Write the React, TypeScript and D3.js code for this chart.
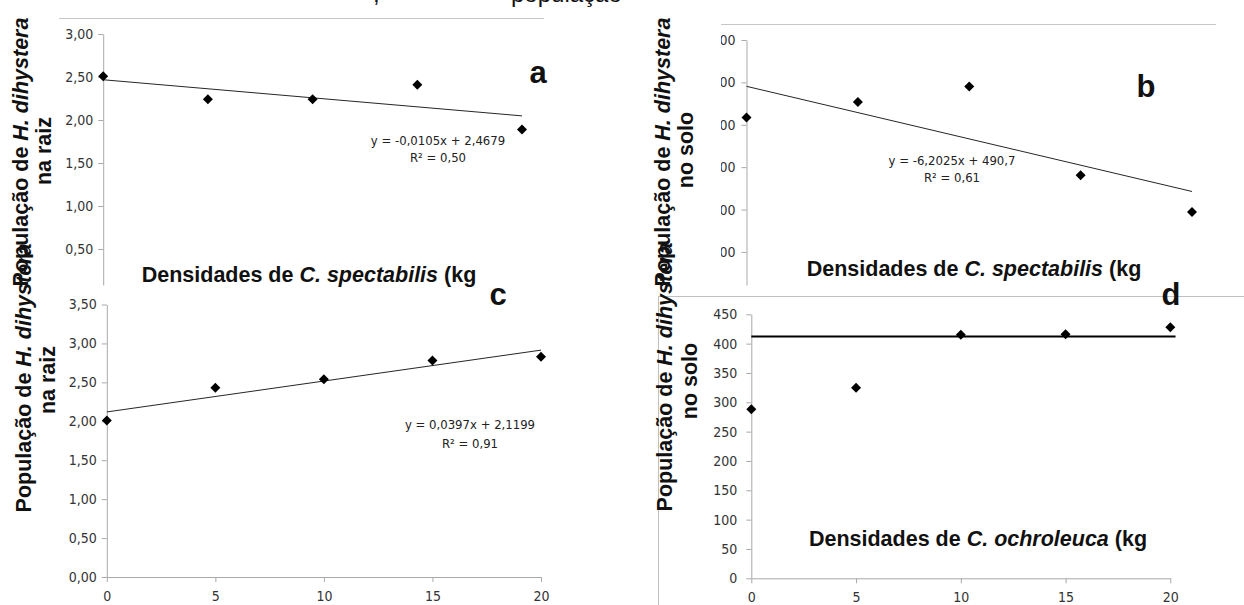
import React, { useRef, useEffect } from "react";
import * as d3 from "d3";

// densidades (kg) e populações
const densAB = [0, 10, 20, 30, 40];
const raizA = [2.51, 2.24, 2.24, 2.41, 1.89];
const soloB = [417, 454, 490, 281, 194];
const densCD = [0, 5, 10, 15, 20];
const raizC = [2.01, 2.43, 2.54, 2.78, 2.83];
const soloD = [288, 325, 415, 416, 428];

const ticksA = [0.5, 1, 1.5, 2, 2.5, 3];
const ticksB = [0, 100, 200, 300, 400, 500, 600];
const ticksC = [0, 0.5, 1, 1.5, 2, 2.5, 3, 3.5];
const ticksD = [0, 50, 100, 150, 200, 250, 300, 350, 400, 450];
const xTicksB = [0, 5, 10, 15, 20, 25, 30, 35, 40];
const xTicksCD = [0, 5, 10, 15, 20];

const eqA = ["y = -0,0105x + 2,4679", "R² = 0,50"];
const eqB = ["y = -6,2025x + 490,7", "R² = 0,61"];
const eqC = ["y = 0,0397x + 2,1199", "R² = 0,91"];
const slopes = [-0.0105, -6.2025, 0.0397];
const intercepts = [2.4679, 490.7, 2.1199];
const linhaD = 412;

const tickFont = "'Liberation Sans Narrow', 'DejaVu Sans Condensed', sans-serif";
const boldFont = "'Liberation Sans', Arial, sans-serif";

const comma = (f) => (d) => f(d).replace(".", ",");

const App = () => {
  const container = useRef(null);

  useEffect(() => {
    createChart();
  });

  const createChart = () => {
    const svg = d3.select(container.current);
    svg.selectAll("*").remove();

    // fragmento do título cortado no topo (só as hastes inferiores aparecem)
    const tt = svg.append("text").attr("y", 1.5).style("font-family", boldFont).style("font-size", "24px").attr("fill", "#111");
    tt.append("tspan").attr("x", 373).text(",");
    tt.append("tspan").attr("x", 511).text("população");

    svg.append("line").attr("x1", 59).attr("x2", 544).attr("y1", 18.5).attr("y2", 18.5).attr("stroke", "#c6c6c6");
    svg.append("line").attr("x1", 721).attr("x2", 1216).attr("y1", 24.5).attr("y2", 24.5).attr("stroke", "#c6c6c6");

    svg.append("clipPath").attr("id", "clipB").append("rect").attr("x", 721).attr("y", 0).attr("width", 100).attr("height", 300);

    const panels = [
      { key: "a", xs: densAB, ys: raizA, xDomain: [0, 40], xRange: [103.2, 522], yDomain: [0, 3], yRange: [292, 34],
        yTicks: ticksA, fmt: comma(d3.format(".2f")), yPad: 5, trend: 0, eq: eqA, eqPos: [438, 145, 162] },
      { key: "b", xs: densAB, ys: soloB, xDomain: [0, 40], xRange: [746.5, 1192], yDomain: [0, 600], yRange: [294.3, 40],
        yTicks: ticksB, fmt: d3.format("d"), yPad: 6, trend: 1, eq: eqB, eqPos: [952, 165, 182], clip: "url(#clipB)",
        xTicks: xTicksB, xLabels: false },
      { key: "c", xs: densCD, ys: raizC, xDomain: [0, 20], xRange: [106.8, 541], yDomain: [0, 3.5], yRange: [577, 304.5],
        yTicks: ticksC, fmt: comma(d3.format(".2f")), yPad: 5, trend: 2, eq: eqC, eqPos: [470, 429, 448],
        xTicks: xTicksCD, xLabels: true, bg: [62, 285, false] },
      { key: "d", xs: densCD, ys: soloD, xDomain: [0, 20], xRange: [751.3, 1170.3], yDomain: [0, 450], yRange: [578.3, 314.3],
        yTicks: ticksD, fmt: d3.format("d"), yPad: 9, trend: null, xTicks: xTicksCD, xLabels: true, bg: [658, 296, true] },
    ];

    panels.forEach((p) => {
      if (p.bg) {
        svg.append("rect").attr("x", p.bg[0] + 0.5).attr("y", p.bg[1] + 0.5).attr("width", 1300).attr("height", 400)
          .attr("fill", "#fff").attr("stroke", p.bg[2] ? "#c0c0c0" : "none");
      }
      const g = svg.append("g").attr("class", "panel-" + p.key);
      const x = d3.scaleLinear().domain(p.xDomain).range(p.xRange);
      const y = d3.scaleLinear().domain(p.yDomain).range(p.yRange);

      const yaxis = d3.axisLeft(y).tickValues(p.yTicks).tickFormat(p.fmt).tickSize(5).tickSizeOuter(0).tickPadding(p.yPad);
      const ywrap = g.append("g");
      if (p.clip) ywrap.attr("clip-path", p.clip);
      ywrap.append("g").attr("transform", `translate(${p.xRange[0]},0)`).call(yaxis);

      if (p.xTicks) {
        const xaxis = d3.axisBottom(x).tickValues(p.xTicks).tickSize(5).tickSizeOuter(0).tickPadding(9)
          .tickFormat(p.xLabels ? d3.format("d") : () => "");
        g.append("g").attr("transform", `translate(0,${p.yRange[0]})`).call(xaxis);
      }

      g.selectAll(".domain, .tick line").attr("stroke", "#a9a9a9");
      g.selectAll(".tick text").attr("fill", "#333").style("font-family", tickFont).style("font-size", "14px");

      if (p.trend !== null) {
        const m = slopes[p.trend], b = intercepts[p.trend];
        g.append("path")
          .datum(p.xDomain)
          .attr("d", d3.line().x((d) => x(d)).y((d) => y(m * d + b)))
          .attr("stroke", "#262626").attr("stroke-width", 1).attr("fill", "none");
        g.selectAll(".eq").data(p.eq).join("text").attr("class", "eq")
          .attr("x", p.eqPos[0]).attr("y", (d, i) => p.eqPos[1 + i])
          .attr("text-anchor", "middle").attr("fill", "#222")
          .style("font-family", tickFont).style("font-size", "13px").text((d) => d);
      } else {
        g.append("path")
          .datum([p.xDomain[0], p.xDomain[1] + 0.25])
          .attr("d", d3.line().x((d) => x(d)).y(() => y(linhaD)))
          .attr("stroke", "#000").attr("stroke-width", 2).attr("fill", "none");
      }

      g.selectAll(".pt").data(p.ys).join("path").attr("class", "pt")
        .attr("d", d3.symbol(d3.symbolSquare, 50))
        .attr("transform", (d, i) => `translate(${x(p.xs[i])},${y(d)}) rotate(45)`)
        .attr("fill", "#000");
    });

    // títulos dos eixos x e letras
    const xTitles = [
      { x: 309, y: 282, sp: "spectabilis" },
      { x: 974, y: 276, sp: "spectabilis" },
      { x: 978, y: 546, sp: "ochroleuca" },
    ];
    xTitles.forEach((t) => {
      const tx = svg.append("text").attr("x", t.x).attr("y", t.y).attr("text-anchor", "middle")
        .style("font-family", boldFont).style("font-size", "21.5px").style("font-weight", "bold").attr("fill", "#111");
      tx.append("tspan").text("Densidades de ");
      tx.append("tspan").style("font-style", "italic").text("C. " + t.sp);
      tx.append("tspan").text(" (kg");
    });

    const letters = [
      { t: "a", x: 538, y: 83 },
      { t: "b", x: 1146, y: 97 },
      { t: "c", x: 498, y: 305 },
      { t: "d", x: 1171, y: 305 },
    ];
    svg.selectAll(".letter").data(letters).join("text").attr("class", "letter")
      .attr("x", (d) => d.x).attr("y", (d) => d.y).attr("text-anchor", "middle")
      .style("font-family", boldFont).style("font-size", "31px").style("font-weight", "bold").attr("fill", "#111")
      .text((d) => d.t);

    // rótulos do eixo y (sobrepostos como no original)
    const yLabels = [
      { x1: 21, y1: 152, x2: 44, y2: 151, l2: "na raiz" },
      { x1: 663, y1: 152, x2: 686, y2: 150, l2: "no solo" },
      { x1: 24, y1: 378, x2: 48, y2: 380, l2: "na raiz" },
      { x1: 665, y1: 377, x2: 690, y2: 381, l2: "no solo" },
    ];
    yLabels.forEach((l) => {
      const t1 = svg.append("text").attr("transform", `translate(${l.x1},${l.y1}) rotate(-90)`)
        .attr("text-anchor", "middle").attr("dominant-baseline", "central")
        .style("font-family", boldFont).style("font-size", "21.5px").style("font-weight", "bold").attr("fill", "#111");
      t1.append("tspan").text("População de ");
      t1.append("tspan").style("font-style", "italic").text("H. dihystera");
      svg.append("text").attr("transform", `translate(${l.x2},${l.y2}) rotate(-90)`)
        .attr("text-anchor", "middle").attr("dominant-baseline", "central")
        .style("font-family", boldFont).style("font-size", "21.5px").style("font-weight", "bold").attr("fill", "#111")
        .text(l.l2);
    });

    return;
  };

  return (
    <svg ref={container} width={1244} height={605}
      style={{ position: "absolute", left: 0, top: 0, background: "#fff", display: "block" }} />
  );
};

export default App;
